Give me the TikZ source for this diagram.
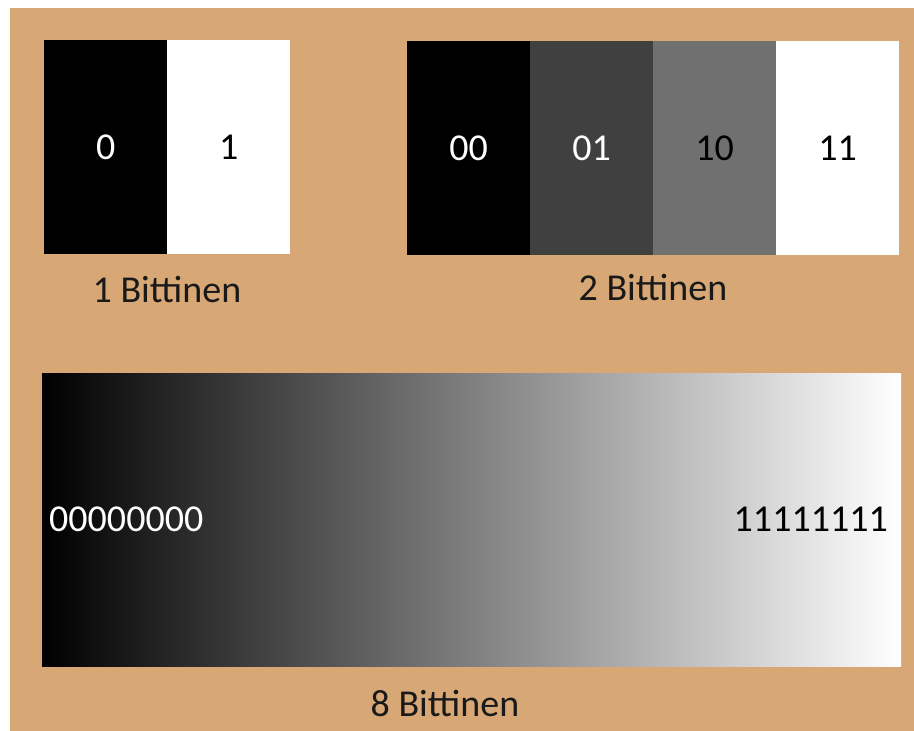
\documentclass[tikz,border=0pt]{standalone}
\usepackage{fontspec}
\setmainfont{Carlito}
\definecolor{tan}{RGB}{215,167,117}
\definecolor{gA}{RGB}{64,64,64}
\definecolor{gB}{RGB}{112,112,112}
\tikzset{
  txt/.style={font=\fontsize{38}{44}\selectfont},
  cell/.style={txt, anchor=north west, inner sep=0pt, minimum height=214pt, minimum width=123pt},
  lbl/.style={txt, anchor=base, inner sep=0pt, text=black!90}
}
\begin{document}
\begin{tikzpicture}[x=1pt,y=-1pt]
\useasboundingbox (0,0) rectangle (914,731);
\fill[white] (0,0) rectangle (914,731);
\fill[tan] (10,8) rectangle (914,731);
% 1 bit
\node[cell, fill=black, text=white] (b0) at (44,40) {0};
\node[cell, fill=white, text=black] (b1) at (167,40) {1};
\node[lbl] (l1) at (167,302) {1 Bittinen};
% 2 bit
\node[cell, fill=black, text=white] (c00) at (407,41) {00};
\node[cell, fill=gA, text=white] (c01) at (530,41) {01};
\node[cell, fill=gB, text=black] (c10) at (653,41) {10};
\node[cell, fill=white, text=black] (c11) at (776,41) {11};
\node[lbl] (l2) at (653,300) {2 Bittinen};
% 8 bit
\node[anchor=north west, inner sep=0pt, minimum width=859pt, minimum height=293pt, left color=black, right color=white] (grad) at (42,373) {};
\node[txt, anchor=west, inner sep=0pt, text=white] (z8) at (49,519) {00000000};
\node[txt, anchor=east, inner sep=0pt, text=black] (o8) at (888,519) {11111111};
\node[lbl] (l8) at (445,716) {8 Bittinen};
\end{tikzpicture}
\end{document}
